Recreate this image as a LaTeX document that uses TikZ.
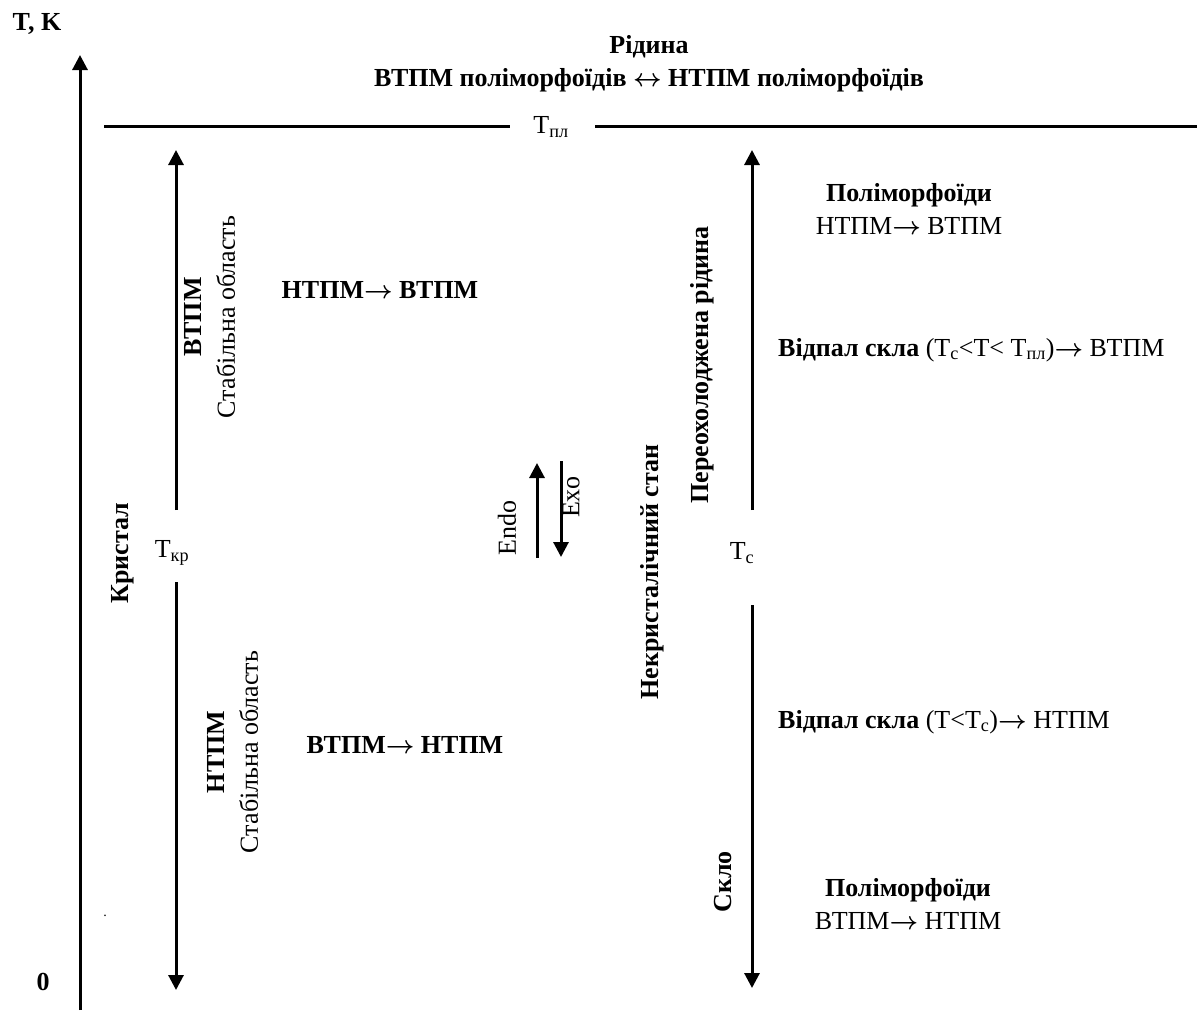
\documentclass[tikz,border=0pt]{standalone}
\usepackage{fontspec}
\setmainfont{Liberation Serif}
\usetikzlibrary{arrows.meta}
\newcommand{\rarr}{{\boldmath$\rightarrow$}}
\newcommand{\lrarr}{{\boldmath$\leftrightarrow$}}
\begin{document}
\begin{tikzpicture}[x=1pt,y=-1pt,
  txt/.style={inner sep=0pt, font=\fontsize{26}{33}\selectfont},
  btxt/.style={inner sep=0pt, font=\fontsize{26}{33}\selectfont\bfseries},
  arr/.style={line width=3pt, -{Triangle[width=15pt,length=15pt]}},
  ln/.style={line width=3pt}]
\useasboundingbox (0,0) rectangle (1197,1010);

% axis
\node[btxt] (tk) at (37,24) {T, K};
\node[btxt] (zero) at (43,982) {0};
\coordinate (axb) at (80,1010);
\coordinate (axt) at (80,55);
\draw[arr] (axb) -- (axt);

% liquid
\node[btxt, align=center] (liq) at (649,64) {Рідина\\ВТПМ поліморфоїдів \lrarr\ НТПМ поліморфоїдів};
\node[txt] (tpl) at (551,127) {T\textsubscript{пл}};
\coordinate (pl1) at (104,126);
\coordinate (pl2) at (510,126);
\coordinate (pl3) at (595,126);
\coordinate (pl4) at (1197,126);
\draw[ln] (pl1) -- (pl2);
\draw[ln] (pl3) -- (pl4);

% crystal
\node[btxt, rotate=90] (kr) at (123,553) {Кристал};
\node[txt] (tkr) at (172,553) {T\textsubscript{кр}};
\coordinate (k1) at (176,510);
\coordinate (k2) at (176,150);
\coordinate (k3) at (176,582);
\coordinate (k4) at (176,990);
\draw[arr] (k1) -- (k2);
\draw[arr] (k3) -- (k4);
\node[txt, rotate=90, align=center] (vst) at (210,317) {\textbf{ВТПМ}\\Стабільна область};
\node[txt, rotate=90, align=center] (nst) at (233,752) {\textbf{НТПМ}\\Стабільна область};
\node[btxt] (n2v) at (380,290) {НТПМ\rarr\ ВТПМ};
\node[btxt] (v2n) at (405,745) {ВТПМ\rarr\ НТПМ};

% endo / exo
\coordinate (e1) at (537,558);
\coordinate (e2) at (537,463);
\coordinate (x1) at (561,461);
\coordinate (x2) at (561,557);
\draw[arr] (e1) -- (e2);
\draw[arr] (x1) -- (x2);
\node[txt, rotate=90] (endo) at (507,528) {Endo};
\node[txt, rotate=90] (exo) at (571,497) {Exo};

% non-crystalline
\node[btxt, rotate=90] (nks) at (652,572) {Некристалічний стан};
\node[btxt, rotate=90] (por) at (702,365) {Переохолоджена рідина};
\node[btxt, rotate=90] (sklo) at (723,882) {Скло};
\node[txt] (tc) at (742,553) {T\textsubscript{c}};
\coordinate (c1) at (752,510);
\coordinate (c2) at (752,150);
\coordinate (c3) at (752,605);
\coordinate (c4) at (752,988);
\draw[arr] (c1) -- (c2);
\draw[arr] (c3) -- (c4);

\node[txt, align=center] (pm1) at (909,209) {\textbf{Поліморфоїди}\\НТПМ\rarr\ ВТПМ};
\node[txt, anchor=west] (vs1) at (778,350) {\textbf{Відпал скла} (T\textsubscript{c}<T< T\textsubscript{пл})\rarr\ ВТПМ};
\node[txt, anchor=west] (vs2) at (778,722) {\textbf{Відпал скла} (T<T\textsubscript{c})\rarr\ НТПМ};
\node[txt, align=center] (pm2) at (908,904) {\textbf{Поліморфоїди}\\ВТПМ\rarr\ НТПМ};

\node[txt, font=\fontsize{14}{16}\selectfont] (dot) at (105,916) {.};
\end{tikzpicture}
\end{document}
